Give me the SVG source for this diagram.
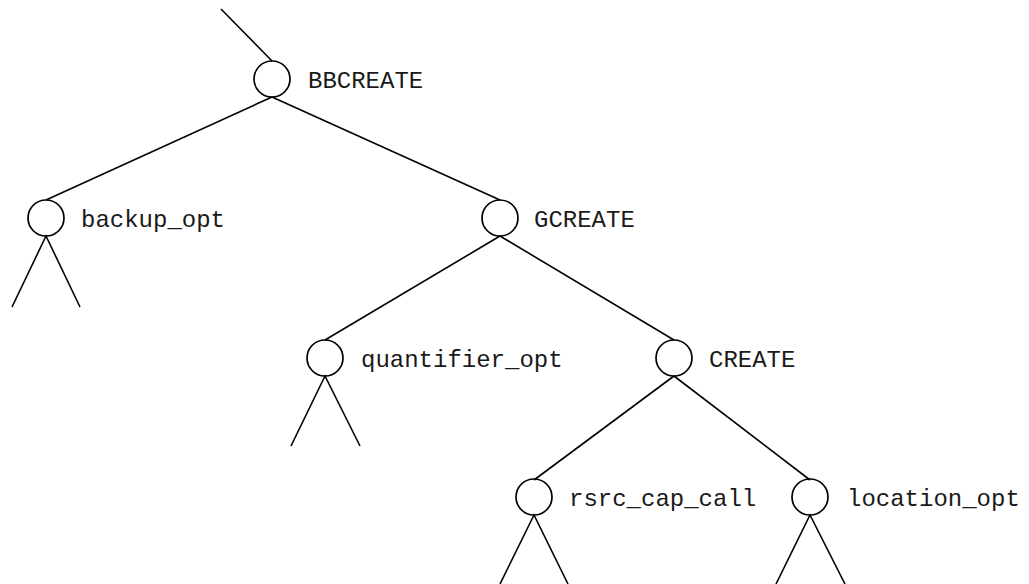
<svg xmlns="http://www.w3.org/2000/svg" width="1029" height="584" viewBox="0 0 1029 584">
<style>
.n{fill:none;stroke:#000;stroke-width:1.7}
.e{stroke:#000;stroke-width:1.6;fill:none}
text{font-family:"Courier New","Liberation Mono","DejaVu Sans Mono",monospace;font-size:24px;fill:#1a1a1a}
</style>
<rect width="1029" height="584" fill="#fff"/>
<g id="connectors">
<line class="e" x1="221" y1="9" x2="272" y2="61"/>
<line class="e" x1="272" y1="97" x2="46" y2="200"/>
<line class="e" x1="272" y1="97" x2="500" y2="200"/>
<line class="e" x1="500" y1="236" x2="325" y2="340"/>
<line class="e" x1="500" y1="236" x2="674" y2="340"/>
<line class="e" x1="674" y1="376" x2="534" y2="480"/>
<line class="e" x1="674" y1="376" x2="810" y2="480"/>
<polyline class="e" points="12,307 46,236 80,307"/>
<polyline class="e" points="291,446 325,376 360,446"/>
<polyline class="e" points="500,584 534,515 568,584"/>
<polyline class="e" points="776,584 810,515 845,584"/>
</g>
<g id="BBCREATE"><circle class="n" cx="272" cy="79" r="18"/><text x="308" y="88">BBCREATE</text></g>
<g id="backup_opt"><circle class="n" cx="46" cy="218" r="18"/><text x="81" y="227">backup_opt</text></g>
<g id="GCREATE"><circle class="n" cx="500" cy="218" r="18"/><text x="534" y="227">GCREATE</text></g>
<g id="quantifier_opt"><circle class="n" cx="325" cy="358" r="18"/><text x="361" y="367">quantifier_opt</text></g>
<g id="CREATE"><circle class="n" cx="674" cy="358" r="18"/><text x="709" y="367">CREATE</text></g>
<g id="rsrc_cap_call"><circle class="n" cx="534" cy="497" r="18"/><text x="569" y="506">rsrc_cap_call</text></g>
<g id="location_opt"><circle class="n" cx="810" cy="497" r="18"/><text x="847" y="506">location_opt</text></g>
</svg>
